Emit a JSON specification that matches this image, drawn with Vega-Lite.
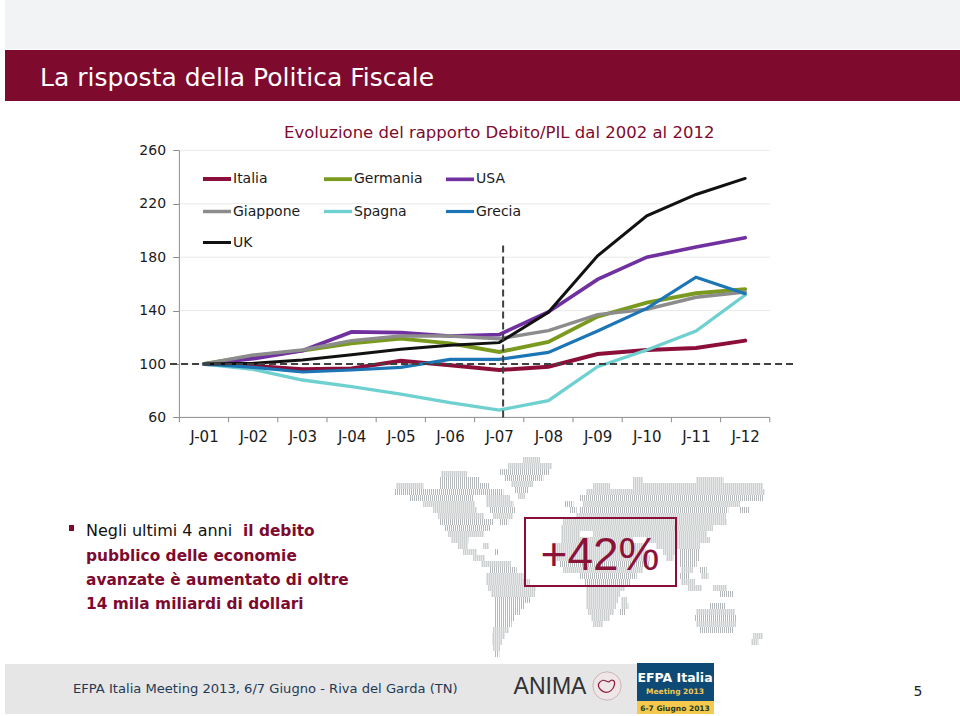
{
"$schema":"https://vega.github.io/schema/vega-lite/v6.json",
"width":960,"height":716,"padding":0,
"autosize":{"type":"fit","contains":"padding"},
"background":"#ffffff",
"view":{"stroke":null},
"config":{"font":"DejaVu Sans"},
"datasets":{
"debt":[
{"m":0,"series":"Italia","value":100},{"m":1,"series":"Italia","value":98.5},{"m":2,"series":"Italia","value":96},{"m":3,"series":"Italia","value":96.7},{"m":4,"series":"Italia","value":102.5},{"m":5,"series":"Italia","value":99},{"m":6,"series":"Italia","value":95.5},{"m":7,"series":"Italia","value":98},{"m":8,"series":"Italia","value":107.5},{"m":9,"series":"Italia","value":110.5},{"m":10,"series":"Italia","value":112},{"m":11,"series":"Italia","value":117.5},
{"m":0,"series":"Germania","value":100},{"m":1,"series":"Germania","value":106},{"m":2,"series":"Germania","value":110},{"m":3,"series":"Germania","value":115.5},{"m":4,"series":"Germania","value":119},{"m":5,"series":"Germania","value":115.5},{"m":6,"series":"Germania","value":109},{"m":7,"series":"Germania","value":116.5},{"m":8,"series":"Germania","value":135.5},{"m":9,"series":"Germania","value":146},{"m":10,"series":"Germania","value":153},{"m":11,"series":"Germania","value":156},
{"m":0,"series":"USA","value":100},{"m":1,"series":"USA","value":104},{"m":2,"series":"USA","value":110},{"m":3,"series":"USA","value":124},{"m":4,"series":"USA","value":123.5},{"m":5,"series":"USA","value":121},{"m":6,"series":"USA","value":122},{"m":7,"series":"USA","value":139},{"m":8,"series":"USA","value":163.4},{"m":9,"series":"USA","value":180},{"m":10,"series":"USA","value":187.6},{"m":11,"series":"USA","value":194.6},
{"m":0,"series":"Giappone","value":100},{"m":1,"series":"Giappone","value":106.7},{"m":2,"series":"Giappone","value":110.5},{"m":3,"series":"Giappone","value":117.5},{"m":4,"series":"Giappone","value":121},{"m":5,"series":"Giappone","value":121},{"m":6,"series":"Giappone","value":119},{"m":7,"series":"Giappone","value":125},{"m":8,"series":"Giappone","value":137},{"m":9,"series":"Giappone","value":141},{"m":10,"series":"Giappone","value":150},{"m":11,"series":"Giappone","value":154},
{"m":0,"series":"Spagna","value":100},{"m":1,"series":"Spagna","value":96},{"m":2,"series":"Spagna","value":88},{"m":3,"series":"Spagna","value":83},{"m":4,"series":"Spagna","value":77.5},{"m":5,"series":"Spagna","value":71},{"m":6,"series":"Spagna","value":65.5},{"m":7,"series":"Spagna","value":72.5},{"m":8,"series":"Spagna","value":98},{"m":9,"series":"Spagna","value":110.5},{"m":10,"series":"Spagna","value":124.7},{"m":11,"series":"Spagna","value":151.7},
{"m":0,"series":"Grecia","value":100},{"m":1,"series":"Grecia","value":97.5},{"m":2,"series":"Grecia","value":94},{"m":3,"series":"Grecia","value":95.5},{"m":4,"series":"Grecia","value":97.5},{"m":5,"series":"Grecia","value":103.5},{"m":6,"series":"Grecia","value":103.5},{"m":7,"series":"Grecia","value":108.7},{"m":8,"series":"Grecia","value":124.7},{"m":9,"series":"Grecia","value":141.7},{"m":10,"series":"Grecia","value":165},{"m":11,"series":"Grecia","value":152.7},
{"m":0,"series":"UK","value":100},{"m":1,"series":"UK","value":100.5},{"m":2,"series":"UK","value":103},{"m":3,"series":"UK","value":107},{"m":4,"series":"UK","value":111},{"m":5,"series":"UK","value":114},{"m":6,"series":"UK","value":116},{"m":7,"series":"UK","value":138.7},{"m":8,"series":"UK","value":181},{"m":9,"series":"UK","value":211},{"m":10,"series":"UK","value":227},{"m":11,"series":"UK","value":239}
],
"map":[
{"a":430,"b":480,"r":30},{"a":385,"b":515,"r":48},{"a":360,"b":510,"r":66},{"a":375,"b":490,"r":84},{"a":395,"b":460,"r":102},{"a":405,"b":445,"r":120},{"a":415,"b":435,"r":138},
{"a":185,"b":260,"r":72},{"a":180,"b":300,"r":90},{"a":50,"b":130,"r":108},{"a":180,"b":330,"r":108},{"a":45,"b":370,"r":126},{"a":90,"b":280,"r":144},{"a":320,"b":390,"r":144},{"a":130,"b":285,"r":162},{"a":320,"b":400,"r":162},{"a":160,"b":290,"r":180},{"a":330,"b":405,"r":180},{"a":175,"b":310,"r":198},{"a":340,"b":400,"r":198},{"a":180,"b":340,"r":216},{"a":360,"b":385,"r":216},{"a":195,"b":330,"r":234},{"a":205,"b":310,"r":252},{"a":215,"b":265,"r":270},{"a":235,"b":265,"r":288},{"a":310,"b":325,"r":288},{"a":250,"b":290,"r":306},{"a":345,"b":355,"r":306},{"a":280,"b":315,"r":324},{"a":305,"b":395,"r":342},
{"a":330,"b":410,"r":360},{"a":320,"b":430,"r":378},{"a":320,"b":450,"r":396},{"a":325,"b":468,"r":414},{"a":335,"b":465,"r":432},{"a":345,"b":450,"r":450},{"a":345,"b":435,"r":468},{"a":345,"b":420,"r":486},{"a":345,"b":405,"r":504},{"a":345,"b":395,"r":522},{"a":340,"b":385,"r":540},{"a":338,"b":375,"r":558},{"a":338,"b":365,"r":576},{"a":340,"b":360,"r":594},{"a":345,"b":358,"r":612},
{"a":760,"b":790,"r":90},{"a":950,"b":1030,"r":90},{"a":640,"b":690,"r":108},{"a":760,"b":1150,"r":108},{"a":620,"b":1155,"r":126},{"a":600,"b":1150,"r":144},{"a":555,"b":580,"r":162},{"a":610,"b":1080,"r":162},{"a":570,"b":590,"r":180},{"a":600,"b":1045,"r":180},{"a":1080,"b":1110,"r":180},{"a":590,"b":1040,"r":198},{"a":550,"b":1040,"r":216},{"a":545,"b":1000,"r":234},{"a":545,"b":600,"r":252},{"a":640,"b":980,"r":252},
{"a":545,"b":760,"r":270},{"a":800,"b":990,"r":270},{"a":530,"b":790,"r":288},{"a":830,"b":960,"r":288},{"a":530,"b":800,"r":306},{"a":850,"b":890,"r":306},{"a":900,"b":960,"r":306},{"a":530,"b":810,"r":324},{"a":860,"b":880,"r":324},{"a":900,"b":960,"r":324},{"a":540,"b":810,"r":342},{"a":900,"b":950,"r":342},{"a":550,"b":790,"r":360},{"a":905,"b":940,"r":360},{"a":960,"b":980,"r":360},{"a":600,"b":770,"r":378},{"a":900,"b":930,"r":378},{"a":965,"b":985,"r":378},{"a":615,"b":750,"r":396},{"a":905,"b":945,"r":396},{"a":620,"b":735,"r":414},{"a":925,"b":965,"r":414},{"a":1000,"b":1040,"r":414},{"a":620,"b":720,"r":432},{"a":1020,"b":1060,"r":432},{"a":620,"b":715,"r":450},{"a":725,"b":740,"r":450},{"a":620,"b":710,"r":468},{"a":725,"b":745,"r":468},{"a":990,"b":1035,"r":468},{"a":625,"b":700,"r":486},{"a":720,"b":735,"r":486},{"a":950,"b":1065,"r":486},{"a":635,"b":690,"r":504},{"a":945,"b":1070,"r":504},{"a":640,"b":670,"r":522},{"a":950,"b":1070,"r":522},{"a":960,"b":1060,"r":540},{"a":1120,"b":1150,"r":558},{"a":1115,"b":1135,"r":576}
]
},
"layer":[
{"data":{"name":"map"},
 "mark":{"type":"rule","color":"#b4b8ba","strokeWidth":6,"strokeDash":[1,1]},
 "encoding":{
  "x":{"field":"a","type":"quantitative","scale":{"domain":[-1140,1740],"nice":false,"zero":false},"axis":null},
  "x2":{"field":"b"},
  "y":{"field":"r","type":"quantitative","scale":{"domain":[798,-1350],"nice":false,"zero":false},"axis":null}}},
{"encoding":{
  "x":{"field":"x","type":"quantitative","scale":{"domain":[0,960],"nice":false,"zero":false},"axis":null},
  "y":{"field":"y","type":"quantitative","scale":{"domain":[716,0],"nice":false,"zero":false},"axis":null}},
 "layer":[
 {"data":{"values":[
   {"x":5,"x2":960,"y":0,"y2":49,"fill":"top"},
   {"x":5,"x2":960,"y":50,"y2":101,"fill":"band"},
   {"x":5,"x2":637,"y":664,"y2":714,"fill":"foot"},
   {"x":637,"x2":714,"y":663,"y2":701,"fill":"blue"},
   {"x":637,"x2":714,"y":701,"y2":714,"fill":"yellow"},
   {"x":69,"x2":74,"y":525,"y2":531,"fill":"band"}]},
  "mark":{"type":"rect"},
  "encoding":{"x2":{"field":"x2"},"y2":{"field":"y2"},
   "color":{"field":"fill","type":"nominal","legend":null,"scale":{"domain":["top","band","foot","blue","yellow"],"range":["#f1f3f5","#7e0a2e","#e6e6e6","#0e4a76","#f4c94e"]}}}},
 {"data":{"values":[{"x":525,"x2":676,"y":518,"y2":586}]},
  "mark":{"type":"rect","fill":null,"stroke":"#8a0f38","strokeWidth":2},
  "encoding":{"x2":{"field":"x2"},"y2":{"field":"y2"}}},
 {"data":{"values":[{"t":"La risposta della Politica Fiscale","x":40,"y":86}]},
  "mark":{"type":"text","align":"left","baseline":"alphabetic","fontSize":25,"fill":"#ffffff"},
  "encoding":{"text":{"field":"t"}}},
 {"data":{"values":[{"t":"Evoluzione del rapporto Debito/PIL dal 2002 al 2012","x":284,"y":138}]},
  "mark":{"type":"text","align":"left","baseline":"alphabetic","fontSize":16.5,"fill":"#7e0a2e"},
  "encoding":{"text":{"field":"t"}}},
 {"data":{"values":[{"t":"Negli ultimi 4 anni ","x":86,"y":536}]},
  "mark":{"type":"text","align":"left","baseline":"alphabetic","fontSize":16,"fill":"#111111"},
  "encoding":{"text":{"field":"t"}}},
 {"data":{"values":[{"t":"il debito","x":243,"y":536},{"t":"pubblico delle economie","x":86,"y":561},{"t":"avanzate è aumentato di oltre","x":86,"y":585},{"t":"14 mila miliardi di dollari","x":86,"y":609}]},
  "mark":{"type":"text","align":"left","baseline":"alphabetic","fontSize":15.4,"fontWeight":"bold","fill":"#7e0a2e"},
  "encoding":{"text":{"field":"t"}}},
 {"data":{"values":[{"t":"+42%","x":600,"y":570}]},
  "mark":{"type":"text","align":"center","baseline":"alphabetic","font":"Liberation Sans","fontSize":46,"fill":"#8b1239"},
  "encoding":{"text":{"field":"t"}}},
 {"data":{"values":[{"t":"EFPA Italia Meeting 2013, 6/7 Giugno - Riva del Garda (TN)","x":73,"y":693}]},
  "mark":{"type":"text","align":"left","baseline":"alphabetic","fontSize":13.1,"fill":"#1f3a55"},
  "encoding":{"text":{"field":"t"}}},
 {"data":{"values":[{"t":"5","x":918,"y":696}]},
  "mark":{"type":"text","align":"center","baseline":"alphabetic","fontSize":14,"fill":"#222222"},
  "encoding":{"text":{"field":"t"}}},
 {"data":{"values":[{"t":"ANIMA","x":550,"y":694}]},
  "mark":{"type":"text","align":"center","baseline":"alphabetic","font":"Liberation Sans","fontSize":23,"fill":"#333333"},
  "encoding":{"text":{"field":"t"}}},
 {"data":{"values":[{"x":607,"y":686}]},
  "mark":{"type":"point","filled":true,"size":800,"fill":"#efe6e7","stroke":"#cbb5ba","strokeWidth":1,"opacity":1}},
 {"data":{"values":[{"x":607,"y":686}]},
  "mark":{"type":"point","size":450,"filled":false,"stroke":"#8a1a3f","strokeWidth":1.2,"opacity":1,"shape":"M-0.8,-0.2 C-0.4,-0.9 0,-0.3 0.2,-0.4 C0.5,-0.7 0.8,-0.5 0.7,-0.1 C0.6,0.4 0.2,0.6 -0.1,0.6 C-0.4,0.6 -0.9,0.2 -0.8,-0.2Z"}},
 {"data":{"values":[{"t":"EFPA Italia","x":675,"y":682}]},
  "mark":{"type":"text","align":"center","baseline":"alphabetic","fontSize":12.5,"fontWeight":"bold","fill":"#ffffff"},
  "encoding":{"text":{"field":"t"}}},
 {"data":{"values":[{"t":"Meeting 2013","x":675,"y":694}]},
  "mark":{"type":"text","align":"center","baseline":"alphabetic","fontSize":7.5,"fontWeight":"bold","fill":"#f4c94e"},
  "encoding":{"text":{"field":"t"}}},
 {"data":{"values":[{"t":"6-7 Giugno 2013","x":675,"y":711}]},
  "mark":{"type":"text","align":"center","baseline":"alphabetic","fontSize":7.5,"fontWeight":"bold","fill":"#1f3a20"},
  "encoding":{"text":{"field":"t"}}}
 ]},
{"encoding":{
  "x":{"field":"m","type":"quantitative","title":null,"scale":{"domain":[-4.146,15.366],"nice":false,"zero":false},
     "axis":{"values":[0,1,2,3,4,5,6,7,8,9,10,11],"labelExpr":"'J-' + (datum.value < 9 ? '0' : '') + (datum.value + 1)","domain":false,"ticks":false,"grid":false,"labelFontSize":15,"labelColor":"#1a1a1a","labelPadding":12,"labelFlush":false,"labelOverlap":false,"offset":-298.6}},
  "y":{"field":"value","type":"quantitative","title":null,"scale":{"domain":[-163.67,372.66],"nice":false,"zero":false},
    "axis":{"values":[60,100,140,180,220,260],"offset":-178.6,"domain":false,"grid":false,"tickSize":6,"tickColor":"#8c8c8c","labelFontSize":14,"labelColor":"#1a1a1a","labelPadding":7}}},
 "layer":[
 {"data":{"values":[{"m":-0.5,"m2":11.5,"value":100},{"m":-0.5,"m2":11.5,"value":140},{"m":-0.5,"m2":11.5,"value":180},{"m":-0.5,"m2":11.5,"value":220},{"m":-0.5,"m2":11.5,"value":260}]},
  "mark":{"type":"rule","color":"#e9e9e9","strokeWidth":1},
  "encoding":{"x2":{"field":"m2"}}},
 {"data":{"values":[{"m":-0.5,"m2":11.5,"value":60}]},
  "mark":{"type":"rule","color":"#8c8c8c","strokeWidth":1},
  "encoding":{"x2":{"field":"m2"}}},
 {"data":{"values":[{"m":-0.5,"value":60,"top":260}]},
  "mark":{"type":"rule","color":"#8c8c8c","strokeWidth":1},
  "encoding":{"y2":{"field":"top"}}},
 {"data":{"values":[{"m":-0.5,"value":60,"low":56.3},{"m":0.5,"value":60,"low":56.3},{"m":1.5,"value":60,"low":56.3},{"m":2.5,"value":60,"low":56.3},{"m":3.5,"value":60,"low":56.3},{"m":4.5,"value":60,"low":56.3},{"m":5.5,"value":60,"low":56.3},{"m":6.5,"value":60,"low":56.3},{"m":7.5,"value":60,"low":56.3},{"m":8.5,"value":60,"low":56.3},{"m":9.5,"value":60,"low":56.3},{"m":10.5,"value":60,"low":56.3},{"m":11.5,"value":60,"low":56.3}]},
  "mark":{"type":"rule","color":"#8c8c8c","strokeWidth":1},
  "encoding":{"y2":{"field":"low"}}},
 {"data":{"name":"debt"},
  "mark":{"type":"line","strokeCap":"round","strokeJoin":"miter"},
  "encoding":{
   "color":{"field":"series","type":"nominal","scale":{"domain":["Italia","Germania","USA","Giappone","Spagna","Grecia","UK"],"range":["#8b0f3a","#7a9a1f","#7030a0","#8c8c8c","#6fd0d0","#1c75b5","#111111"]},
     "legend":{"orient":"none","legendX":201,"legendY":163,"direction":"horizontal","columns":3,"title":null,"symbolType":"stroke","symbolSize":784,"symbolStrokeWidth":3.5,"labelFontSize":14,"labelColor":"#1a1a1a","labelOffset":0,"columnPadding":15,"rowPadding":8.5,"padding":0}},
   "strokeWidth":{"field":"series","type":"nominal","legend":null,"scale":{"domain":["Italia","Germania","USA","Giappone","Spagna","Grecia","UK"],"range":[4,3,3.5,3.5,3,3,3.5]}},
   "order":{"field":"m","type":"quantitative"}}},
 {"data":{"values":[{"m":-0.69,"value":100,"m2":12.03}]},
  "mark":{"type":"rule","color":"#404040","strokeWidth":2,"strokeDash":[7,4]},
  "encoding":{"x2":{"field":"m2"}}},
 {"data":{"values":[{"m":6.08,"value":60,"v2":189}]},
  "mark":{"type":"rule","color":"#404040","strokeWidth":2,"strokeDash":[7,4]},
  "encoding":{"y2":{"field":"v2"}}}
 ]}
],
"resolve":{"scale":{"x":"independent","y":"independent","color":"independent","strokeWidth":"independent"}}
}
